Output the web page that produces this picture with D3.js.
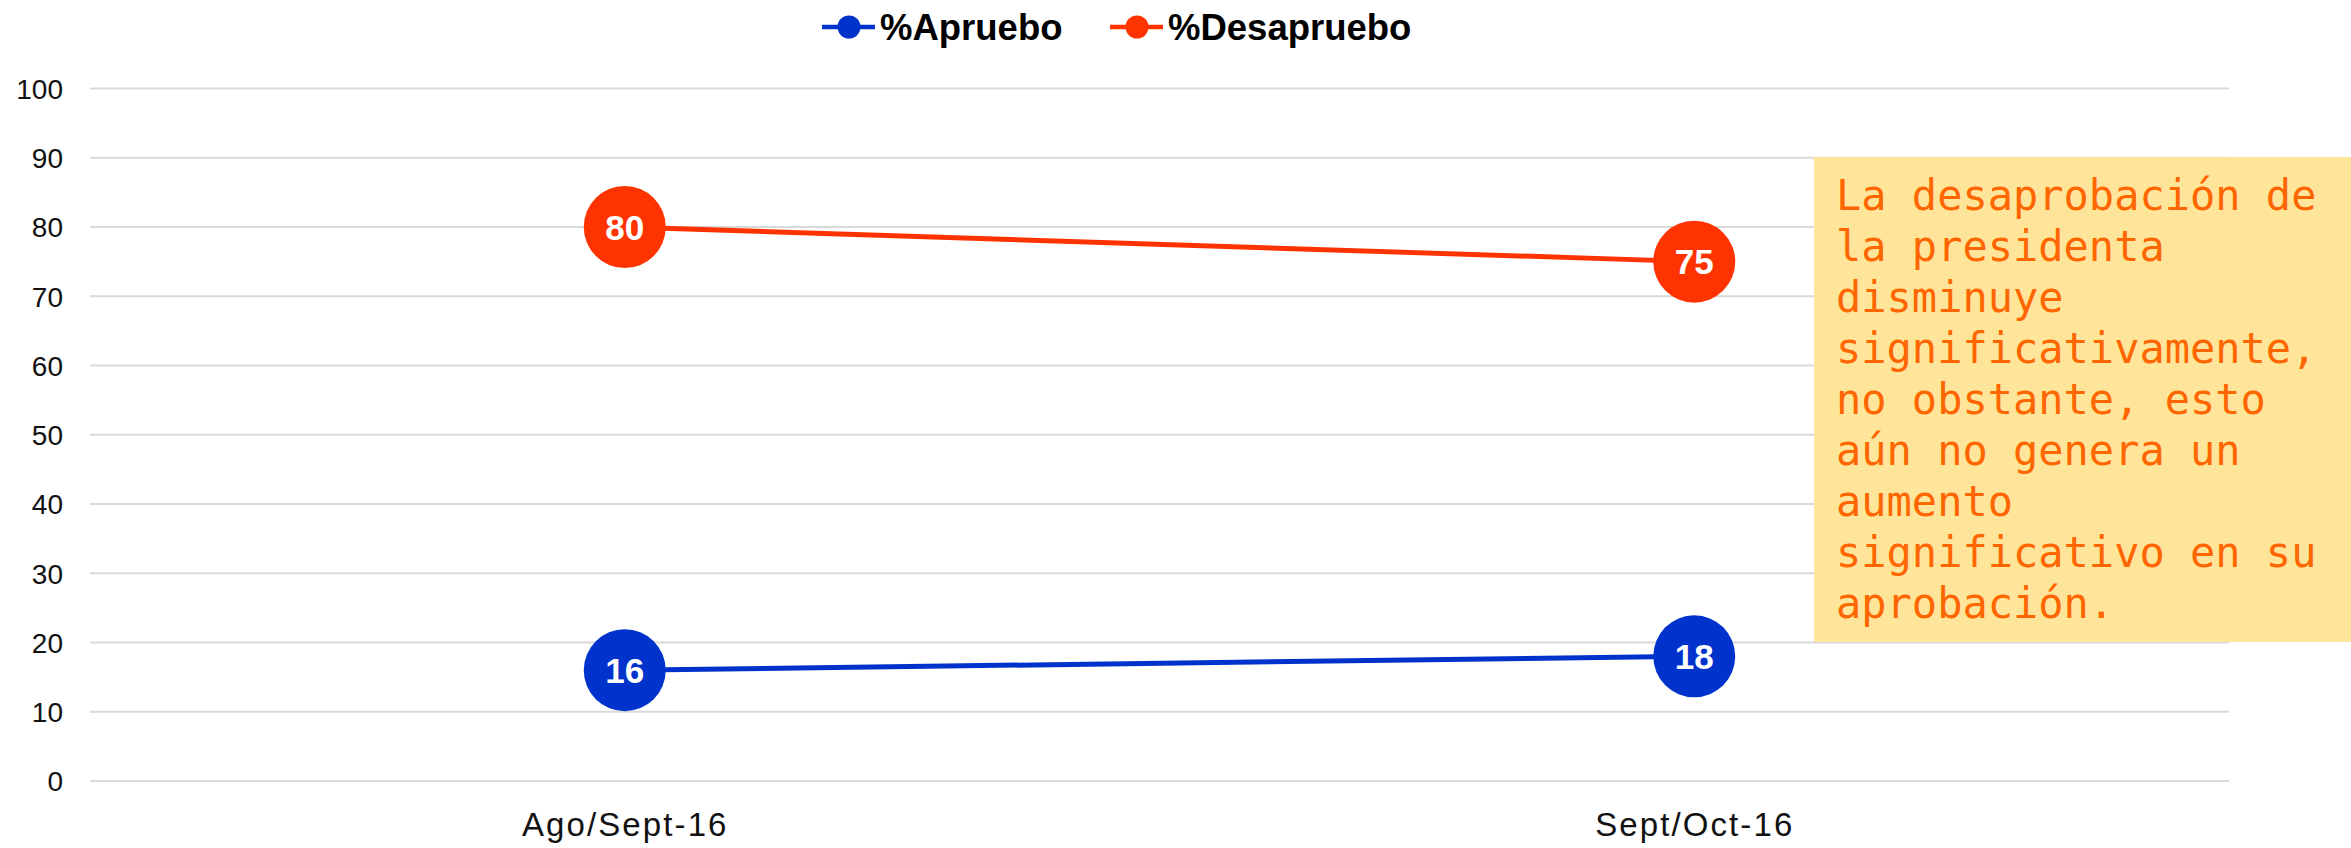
<!DOCTYPE html>
<html>
<head>
<meta charset="utf-8">
<script src="https://cdn.jsdelivr.net/npm/d3@7"></script>
<style>
  html, body { margin: 0; padding: 0; background: #fff; }
  svg { display: block; }
</style>
</head>
<body>
<svg id="chart" width="2351" height="848"></svg>
<script>
const categories = ["Ago/Sept-16", "Sept/Oct-16"];
const apruebo = [16, 18];
const desapruebo = [80, 75];
const yTicks = [0, 10, 20, 30, 40, 50, 60, 70, 80, 90, 100];
const seriesNames = ["%Apruebo", "%Desapruebo"];
const seriesColors = ["#0033cc", "#ff3300"];
const noteLines = [
  "La desaprobación de",
  "la presidenta",
  "disminuye",
  "significativamente,",
  "no obstante, esto",
  "aún no genera un",
  "aumento",
  "significativo en su",
  "aprobación."
];

const svg = d3.select("#chart");
const plotLeft = 90, plotRight = 2229, plotTop = 88.5, plotBottom = 781;

const x = d3.scalePoint().domain(categories).range([plotLeft, plotRight]).padding(0.5);
const y = d3.scaleLinear().domain([0, 100]).range([plotBottom, plotTop]);

// gridlines
svg.append("g").selectAll("line").data(yTicks).join("line")
  .attr("x1", plotLeft).attr("x2", plotRight)
  .attr("y1", d => y(d)).attr("y2", d => y(d))
  .attr("stroke", "#d9d9d9").attr("stroke-width", 2);

// y axis labels
const yAxis = d3.axisLeft(y).tickValues(yTicks).tickSize(0).tickPadding(0);
const yg = svg.append("g").attr("transform", "translate(63,0)").call(yAxis);
yg.select(".domain").remove();
yg.selectAll("text")
  .attr("font-family", "Liberation Sans, Arial, sans-serif")
  .attr("font-size", 28).attr("fill", "#111").attr("dy", "0.35em");

// x axis labels
const xAxis = d3.axisBottom(x).tickSize(0).tickPadding(0);
const xg = svg.append("g").attr("transform", "translate(0,836)").call(xAxis);
xg.select(".domain").remove();
xg.selectAll("text")
  .attr("font-family", "Liberation Sans, Arial, sans-serif")
  .attr("font-size", 33).attr("fill", "#111").attr("dy", 0)
  .attr("letter-spacing", "2.1px");

const series = [
  { name: seriesNames[0], values: apruebo, color: seriesColors[0] },
  { name: seriesNames[1], values: desapruebo, color: seriesColors[1] }
];

const line = d3.line().x((d, i) => x(categories[i])).y(d => y(d));

series.forEach(s => {
  svg.append("path").datum(s.values)
    .attr("d", line).attr("fill", "none")
    .attr("stroke", s.color).attr("stroke-width", 5);
  const g = svg.append("g");
  g.selectAll("circle").data(s.values).join("circle")
    .attr("cx", (d, i) => x(categories[i])).attr("cy", d => y(d))
    .attr("r", 41).attr("fill", s.color);
  g.selectAll("text").data(s.values).join("text")
    .attr("x", (d, i) => x(categories[i])).attr("y", d => y(d))
    .attr("dy", "0.36em").attr("text-anchor", "middle")
    .attr("font-family", "Liberation Sans, Arial, sans-serif")
    .attr("font-weight", "bold").attr("font-size", 35).attr("fill", "#fff")
    .text(d => d);
});

// legend
const legendX = [822, 1110];
series.forEach((s, i) => {
  const g = svg.append("g").attr("transform", `translate(${legendX[i]},27)`);
  g.append("line").attr("x1", 0).attr("x2", 53).attr("y1", 0).attr("y2", 0)
    .attr("stroke", s.color).attr("stroke-width", 4.5);
  g.append("circle").attr("cx", 27).attr("cy", 0).attr("r", 11.5).attr("fill", s.color);
  g.append("text").attr("x", 58).attr("y", 13)
    .attr("font-family", "Liberation Sans, Arial, sans-serif")
    .attr("font-weight", "bold").attr("font-size", 36.5).attr("fill", "#000")
    .text(s.name);
});

// annotation box
svg.append("rect").attr("x", 1814).attr("y", 157).attr("width", 2351 - 1814).attr("height", 642 - 157)
  .attr("fill", "#ffe599");
svg.append("g").selectAll("text").data(noteLines).join("text")
  .attr("x", 1836).attr("y", (d, i) => 210 + i * 51)
  .attr("font-family", "DejaVu Sans Mono, monospace")
  .attr("font-size", 42).attr("fill", "#ff6600")
  .text(d => d);
</script>
</body>
</html>
